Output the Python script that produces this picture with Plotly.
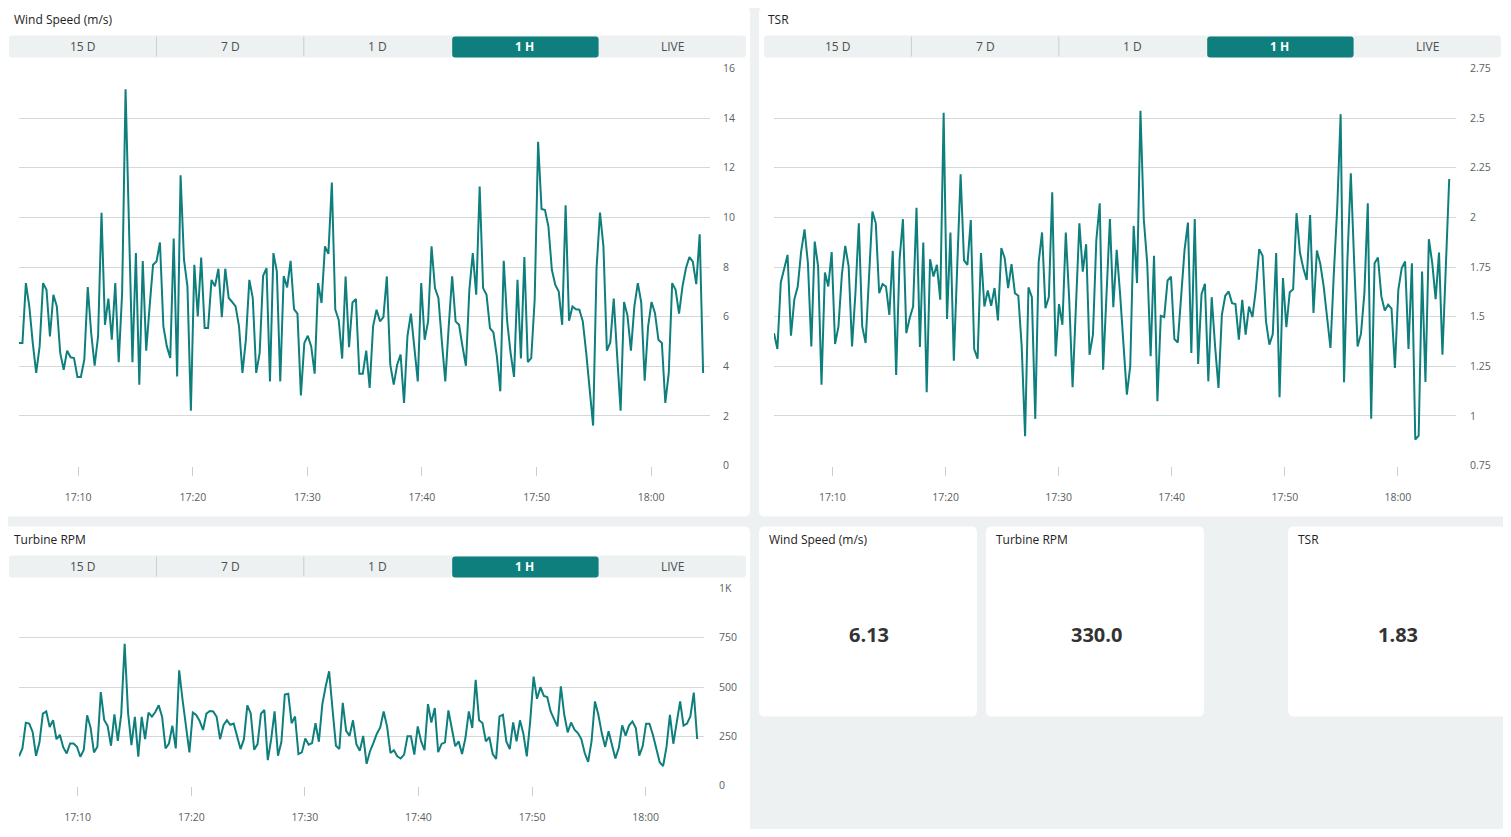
import plotly.graph_objs as go
import pandas as pd

# figure size; on the photographed page the figure lands ~14px down and is
# squeezed a little vertically, so the y mapping below uses the measured span
W, H = 1495, 821
OFF_X, OFF_Y = 8, 14.5
SPAN_Y = 807.0

TEAL = '#0e7f7d'
BG = '#edf1f1'
GRID = '#d3d8d8'
TXT = '#222222'
TICK = '#5a5f5f'

day = '2024-05-10'
start_time = day + ' 17:04:50'
sample_seconds = 18
range_end = day + ' 18:05:08'

wind_speed = [
    4.94, 4.94, 7.35, 6.41, 4.94, 3.73, 4.80, 7.35, 7.08, 5.20,
    6.88, 6.41, 4.53, 3.86, 4.63, 4.36, 4.33, 3.57, 3.57, 4.27,
    7.19, 5.34, 4.02, 5.20, 10.19, 5.67, 6.73, 5.07, 7.35, 4.16,
    6.95, 15.16, 9.60, 4.16, 8.56, 3.26, 8.24, 4.63, 6.41, 8.09,
    8.22, 8.99, 5.61, 4.80, 4.33, 9.15, 3.59, 11.70, 8.29, 7.22,
    2.21, 8.09, 6.01, 8.38, 5.54, 5.54, 7.48, 7.22, 7.93, 5.98,
    7.93, 6.75, 6.59, 6.41, 5.61, 3.73, 5.07, 7.48, 6.75, 3.73,
    4.53, 7.64, 7.95, 3.39, 8.56, 7.82, 3.39, 7.64, 7.18, 8.25,
    6.30, 6.12, 2.82, 4.94, 5.23, 4.80, 3.70, 7.35, 6.55, 8.83,
    8.53, 11.40, 6.28, 5.87, 4.31, 7.62, 4.77, 6.57, 6.71, 3.70,
    3.70, 4.63, 3.13, 5.61, 6.28, 5.81, 5.98, 7.62, 4.06, 3.26,
    4.06, 4.47, 2.52, 5.23, 6.12, 4.73, 3.39, 7.35, 5.07, 5.81,
    8.83, 7.15, 6.75, 5.00, 3.39, 5.61, 7.62, 5.81, 5.67, 4.80,
    4.02, 7.08, 8.56, 6.88, 11.24, 7.15, 6.88, 5.54, 5.36, 4.40,
    2.99, 8.25, 5.81, 4.53, 3.57, 7.48, 4.31, 8.40, 4.17, 4.33,
    6.68, 13.05, 10.34, 10.30, 9.63, 7.89, 7.28, 7.01, 5.67, 10.49,
    5.83, 6.41, 6.30, 6.28, 5.81, 4.53, 3.06, 1.61, 7.95, 10.19,
    8.83, 4.63, 4.96, 6.73, 4.40, 2.21, 6.59, 6.04, 4.63, 6.41,
    7.35, 6.57, 3.42, 5.61, 6.59, 6.14, 5.07, 4.94, 2.52, 3.73,
    7.35, 7.08, 6.12, 7.22, 7.95, 8.40, 8.22, 7.31, 9.32, 3.73,
]

tsr = [
    1.417, 1.337, 1.672, 1.736, 1.811, 1.404, 1.588, 1.652, 1.828, 1.940,
    1.769, 1.350, 1.878, 1.753, 1.157, 1.722, 1.652, 1.825, 1.362, 1.451,
    1.711, 1.856, 1.753, 1.350, 1.618, 1.970, 1.451, 1.367, 1.702, 2.029,
    1.970, 1.618, 1.664, 1.652, 1.509, 1.831, 1.206, 1.786, 1.991, 1.417,
    1.493, 1.551, 2.048, 1.347, 1.873, 1.119, 1.789, 1.702, 1.761, 1.585,
    2.527, 1.488, 1.924, 1.278, 1.753, 2.217, 1.783, 1.761, 1.987, 1.337,
    1.288, 1.820, 1.551, 1.632, 1.555, 1.644, 1.481, 1.845, 1.794, 1.644,
    1.764, 1.618, 1.605, 1.350, 0.898, 1.647, 1.598, 0.985, 1.774, 1.924,
    1.543, 1.598, 2.126, 1.300, 1.563, 1.459, 1.924, 1.588, 1.144, 1.588,
    1.970, 1.727, 1.865, 1.308, 1.409, 1.887, 2.071, 1.233, 1.610, 1.991,
    1.548, 1.836, 1.615, 1.367, 1.107, 1.253, 1.957, 1.669, 2.537, 1.987,
    1.769, 1.300, 1.806, 1.074, 1.504, 1.498, 1.682, 1.702, 1.387, 1.370,
    1.618, 1.836, 1.974, 1.317, 1.992, 1.261, 1.613, 1.665, 1.174, 1.598,
    1.350, 1.141, 1.509, 1.605, 1.627, 1.568, 1.563, 1.384, 1.585, 1.409,
    1.551, 1.498, 1.635, 1.840, 1.806, 1.476, 1.359, 1.412, 1.820, 1.094,
    1.694, 1.447, 1.623, 1.638, 2.021, 1.823, 1.744, 1.685, 2.012, 1.518,
    1.833, 1.766, 1.652, 1.488, 1.342, 1.720, 2.050, 2.520, 1.169, 1.786,
    2.222, 1.769, 1.350, 1.414, 1.618, 2.071, 0.985, 1.769, 1.798, 1.602,
    1.531, 1.560, 1.540, 1.241, 1.635, 1.744, 1.778, 1.337, 1.769, 0.881,
    0.901, 1.727, 1.171, 1.890, 1.769, 1.588, 1.823, 1.308, 1.750, 2.193,
]

turbine_rpm = [
    148, 188, 319, 314, 272, 151, 218, 365, 376, 297,
    331, 235, 257, 193, 163, 213, 213, 197, 146, 180,
    356, 294, 168, 197, 474, 333, 303, 202, 361, 227,
    361, 719, 370, 205, 348, 146, 348, 235, 370, 350,
    373, 407, 348, 188, 213, 303, 188, 585, 434, 311,
    168, 370, 358, 328, 282, 365, 378, 376, 348, 235,
    306, 331, 308, 314, 252, 185, 235, 407, 366, 182,
    210, 365, 383, 129, 235, 376, 151, 222, 462, 466,
    316, 350, 160, 168, 239, 207, 215, 316, 222, 412,
    504, 580, 387, 202, 185, 420, 277, 252, 331, 210,
    176, 252, 110, 174, 216, 263, 295, 376, 300, 165,
    179, 148, 137, 157, 250, 250, 157, 300, 224, 179,
    413, 320, 393, 169, 211, 219, 381, 283, 199, 224,
    160, 241, 376, 292, 536, 331, 317, 224, 246, 160,
    135, 351, 359, 224, 185, 320, 224, 331, 263, 148,
    325, 553, 440, 499, 455, 449, 376, 337, 300, 503,
    359, 270, 320, 283, 266, 236, 165, 120, 224, 427,
    359, 266, 196, 275, 202, 137, 191, 305, 253, 304,
    325, 292, 152, 199, 314, 314, 258, 182, 118, 98,
    196, 359, 212, 320, 427, 304, 314, 351, 472, 236,
]

range_buttons = ['15 D', '7 D', '1 D', '1 H', 'LIVE']
active_button = '1 H'

time_ticks = ['17:10', '17:20', '17:30', '17:40', '17:50', '18:00']
wind_ticks = [0, 2, 4, 6, 8, 10, 12, 14, 16]
tsr_ticks = [0.75, 1, 1.25, 1.5, 1.75, 2, 2.25, 2.5, 2.75]
tsr_tick_text = ['0.75', '1', '1.25', '1.5', '1.75', '2', '2.25', '2.5', '2.75']
rpm_ticks = [0, 250, 500, 750, 1000]
rpm_tick_text = ['0', '250', '500', '750', '1K']

tile_names = ['Wind Speed (m/s)', 'Turbine RPM', 'TSR']
tile_values = ['6.13', '330.0', '1.83']


def px(x):
    return (x - OFF_X) / W


def py(y):
    return 1 - (y - OFF_Y) / SPAN_Y


def rounded_box(x0, y0, x1, y1, color, r=5):
    pts = [
        ('M', x0 + r, y0), ('L', x1 - r, y0), ('Q', x1, y0, x1, y0 + r),
        ('L', x1, y1 - r), ('Q', x1, y1, x1 - r, y1), ('L', x0 + r, y1),
        ('Q', x0, y1, x0, y1 - r), ('L', x0, y0 + r), ('Q', x0, y0, x0 + r, y0),
    ]
    path = ''
    for p in pts:
        coords = p[1:]
        path += p[0] + ' ' + ' '.join(
            '%.5f,%.5f' % (px(coords[i]), py(coords[i + 1])) for i in range(0, len(coords), 2)) + ' '
    return dict(type='path', path=path + 'Z', xref='paper', yref='paper',
                fillcolor=color, line=dict(width=0), layer='below')


def text(x, y, s, size=12, color=TXT, anchor='left', bold=False):
    if bold:
        s = '<b>' + s + '</b>'
    return dict(x=px(x), y=py(y), xref='paper', yref='paper', text=s, showarrow=False,
                xanchor=anchor, yanchor='middle', font=dict(size=size, color=color))


times = pd.date_range(start_time, periods=len(wind_speed), freq='%ds' % sample_seconds)
tick_times = [day + ' ' + t + ':00' for t in time_ticks]

shapes = []
annotations = []

# chart panels: title, panel box, button bar, plot area
panels = [
    dict(title='Wind Speed (m/s)', box=(5, 6, 750, 516), bar=(9, 35, 746, 57),
         plot=(19, 68, 710, 465), ystand=12),
    dict(title='TSR', box=(759, 6, 1506, 516), bar=(764, 35, 1501, 57),
         plot=(774, 68, 1456, 465), ystand=13),
    dict(title='Turbine RPM', box=(5, 526, 750, 860), bar=(9, 555, 746, 577),
         plot=(19, 588, 704, 785), ystand=14),
]

for p in panels:
    bx0, by0, bx1, by1 = p['box']
    shapes.append(rounded_box(bx0, by0, bx1, by1, 'white', r=6))
    annotations.append(text(bx0 + 7, by0 + 13, p['title'], size=12))
    x0, y0, x1, y1 = p['bar']
    shapes.append(rounded_box(x0, y0, x1, y1, BG, r=3))
    seg = (x1 - x0) / len(range_buttons)
    for k, name in enumerate(range_buttons):
        cx = x0 + seg * (k + 0.5)
        if name == active_button:
            shapes.append(rounded_box(x0 + seg * k + 1, y0 + 1, x0 + seg * (k + 1), y1, TEAL, r=3))
            annotations.append(text(cx, (y0 + y1) / 2, name, size=12, color='white',
                                    anchor='center', bold=True))
        else:
            annotations.append(text(cx, (y0 + y1) / 2, name, size=12, color='#4a4f4f',
                                    anchor='center'))
        if k > 0 and name != active_button and range_buttons[k - 1] != active_button:
            shapes.append(dict(type='line', xref='paper', yref='paper',
                               x0=px(x0 + seg * k), x1=px(x0 + seg * k),
                               y0=py(y0 + 1), y1=py(y1 - 1),
                               line=dict(color='#c9cece', width=1)))

# value tiles
tiles = [(759, 526, 977, 716), (986, 526, 1204, 716), (1288, 526, 1506, 716)]
for (x0, y0, x1, y1), name, val in zip(tiles, tile_names, tile_values):
    shapes.append(rounded_box(x0, y0, x1, y1, 'white', r=6))
    annotations.append(text(x0 + 8, y0 + 13, name, size=12))
    annotations.append(text((x0 + x1) / 2 + 1, 634, val, size=20, color='#333333',
                            anchor='center', bold=True))

fig = go.Figure()
series = [wind_speed, tsr, turbine_rpm]
for i, y in enumerate(series):
    fig.add_trace(go.Scatter(x=times, y=y, mode='lines', line=dict(color=TEAL, width=2),
                             xaxis='x%d' % (i + 1), yaxis='y%d' % (i + 1), hoverinfo='x+y'))

y_ranges = [[0, 16], [0.75, 2.75], [0, 1000]]
y_tickvals = [wind_ticks, tsr_ticks, rpm_ticks]
y_ticktext = [[str(v) for v in wind_ticks], tsr_tick_text, rpm_tick_text]

axes = {}
for i, p in enumerate(panels):
    x0, y0, x1, y1 = p['plot']
    n = i + 1
    axes['xaxis%d' % n] = dict(
        domain=[px(x0), px(x1)], anchor='y%d' % n, type='date',
        range=[start_time, range_end], tickvals=tick_times, ticktext=time_ticks,
        ticks='outside', ticklen=9, tickcolor='#c9cece', tickwidth=1,
        tickfont=dict(size=10.5, color=TICK), ticklabelstandoff=13,
        showgrid=False, zeroline=False, showline=False, fixedrange=True)
    axes['yaxis%d' % n] = dict(
        domain=[py(y1), py(y0)], anchor='x%d' % n, side='right',
        range=y_ranges[i], tickvals=y_tickvals[i], ticktext=y_ticktext[i],
        showgrid=True, gridcolor=GRID, gridwidth=1, zeroline=False, showline=False,
        tickfont=dict(size=10.5, color=TICK), ticklabelstandoff=p['ystand'], fixedrange=True)

fig.update_layout(
    width=W, height=H, autosize=False,
    margin=dict(l=0, r=0, t=0, b=0),
    paper_bgcolor=BG, plot_bgcolor='rgba(0,0,0,0)',
    font=dict(family='Open Sans, Noto Sans, sans-serif', color=TXT),
    showlegend=False, shapes=shapes, annotations=annotations,
    **axes
)

fig.write_html('out.html', config={'displayModeBar': False})
